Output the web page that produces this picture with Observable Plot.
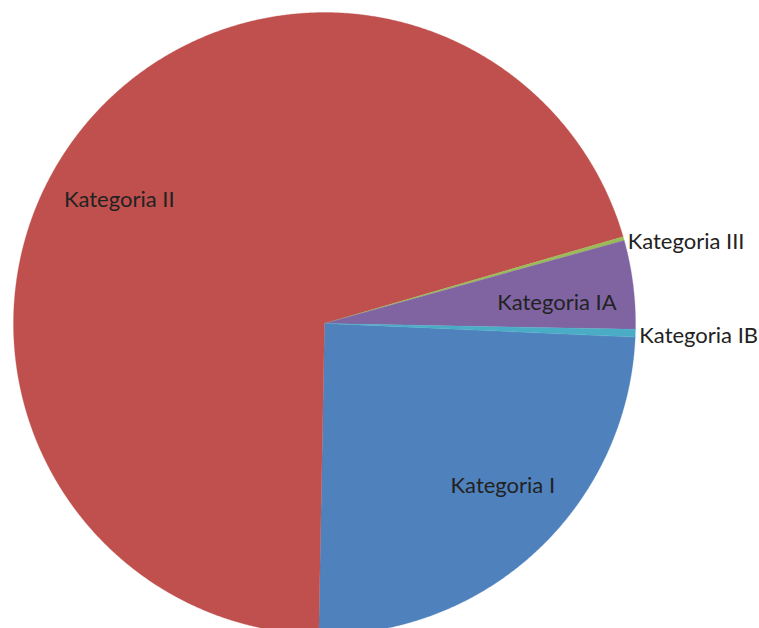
<!DOCTYPE html>
<html>
<head>
<meta charset="utf-8">
<script src="https://cdn.jsdelivr.net/npm/d3@7"></script>
<script src="https://cdn.jsdelivr.net/npm/@observablehq/plot@0.6"></script>
<style>
  html, body { margin: 0; padding: 0; background: #ffffff; }
  #chart { width: 759px; height: 628px; overflow: hidden; }
</style>
</head>
<body>
<div id="chart"></div>
<script>
// Data (percent shares, in the order Excel draws them)
const categories = ["Kategoria I", "Kategoria II", "Kategoria III", "Kategoria IA", "Kategoria IB"];
const values = [24.6, 70.2, 0.2, 4.6, 0.4];
const colors = ["#4F81BD", "#C0504D", "#9BBB59", "#8064A2", "#4BACC6"];

// Layout
const W = 759, H = 628;
const R = 311;                 // pie radius (in scale units = px)
const startDeg = 92.5;         // first slice angle
const labelLayout = {
  "Kategoria I":   {inside: true,  r: 0.775, nudge: -4.5},
  "Kategoria II":  {inside: true,  r: 0.77,  nudge: -6.4},
  "Kategoria III": {inside: false, r: 1.0,   nudge: 0},
  "Kategoria IA":  {inside: true,  r: 0.75,  nudge: 2.2},
  "Kategoria IB":  {inside: false, r: 1.0,   nudge: 0}
};

const rad = Math.PI / 180;
const pie = d3.pie().sort(null).value(d => d.value)
  .startAngle(startDeg * rad).endAngle((startDeg + 360) * rad);
const rows = categories.map((c, i) => ({name: c, value: values[i], color: colors[i]}));
const arcs = pie(rows);

// polygon vertices for each slice (center + arc)
const pts = [];
for (const a of arcs) {
  const name = a.data.name;
  pts.push({name, x: 0, y: 0});
  const n = Math.max(2, Math.ceil((a.endAngle - a.startAngle) / (0.25 * rad)));
  for (let k = 0; k <= n; k++) {
    const t = a.startAngle + (a.endAngle - a.startAngle) * k / n;
    pts.push({name, x: R * Math.sin(t), y: R * Math.cos(t)});
  }
}

// label positions
const labels = arcs.map(a => {
  const L = labelLayout[a.data.name];
  const mid = (a.startAngle + a.endAngle) / 2 + L.nudge * rad;
  return {name: a.data.name, inside: L.inside,
          x: R * L.r * Math.sin(mid), y: R * L.r * Math.cos(mid)};
});

const cx = 324, cy = 323;
const chart = Plot.plot({
  width: W, height: H,
  margin: 0,
  style: {background: "#ffffff", fontFamily: "Lato, 'Open Sans', sans-serif"},
  x: {domain: [-cx, W - cx], axis: null},
  y: {domain: [-(H - cy), cy], axis: null},
  color: {domain: categories, range: colors},
  marks: [
    Plot.line(pts, {x: "x", y: "y", z: "name", fill: "name", stroke: "name",
      strokeWidth: 0.3, curve: "linear-closed"}),
    Plot.text(labels.filter(d => d.inside), {x: "x", y: "y", text: "name",
      fontSize: 22, fill: "#222222", textAnchor: "middle"}),
    Plot.text(labels.filter(d => !d.inside), {x: "x", y: "y", text: "name",
      fontSize: 22, fill: "#222222", textAnchor: "start", dx: 4, dy: 3})
  ]
});
document.getElementById("chart").appendChild(chart);
</script>
</body>
</html>
